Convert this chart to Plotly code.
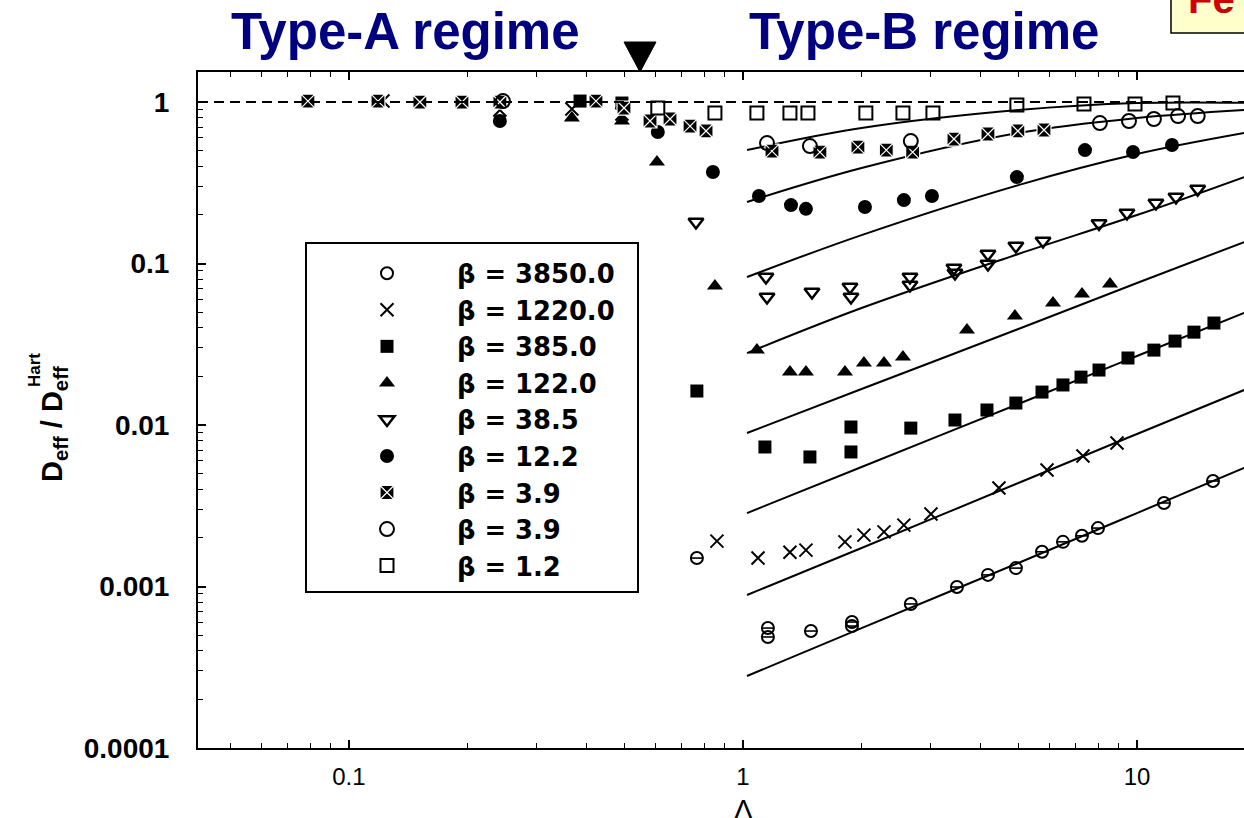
import plotly.graph_objects as go

# ---------------- data ----------------
lam_b3850 = [0.764, 1.157, 1.157, 1.488, 1.891, 1.891, 2.667, 3.492, 4.186, 4.928, 5.741, 6.489, 7.25, 7.962, 11.71, 15.59]
d_b3850 = [0.00150, 0.000553, 0.000487, 0.000530, 0.000603, 0.000569, 0.000780, 0.000993, 0.00118, 0.00130, 0.00164, 0.00189, 0.00206, 0.00230, 0.00329, 0.00450]

lam_b1220 = [0.122, 0.2416, 0.368, 0.493, 0.859, 1.092, 1.316, 1.445, 1.815, 2.028, 2.280, 2.561, 3.000, 4.464, 5.911, 7.294, 8.898]
d_b1220 = [1.014, 0.892, 0.905, 0.843, 0.00191, 0.00150, 0.00163, 0.00168, 0.00189, 0.00208, 0.00218, 0.00240, 0.00281, 0.00407, 0.00526, 0.00643, 0.00773]

lam_b385 = [0.386, 0.493, 0.764, 1.137, 1.479, 1.880, 1.880, 2.667, 3.452, 4.162, 4.928, 5.741, 6.489, 7.210, 8.01, 9.488, 11.04, 12.49, 13.95, 15.68]
d_b385 = [1.014, 0.986, 0.01624, 0.00731, 0.00634, 0.00972, 0.00681, 0.00957, 0.01074, 0.01239, 0.01368, 0.0160, 0.0177, 0.0198, 0.0219, 0.0260, 0.0291, 0.0331, 0.0376, 0.0428]

lam_b122 = [0.368, 0.493, 0.605, 0.849, 1.085, 1.316, 1.445, 1.815, 2.028, 2.280, 2.547, 3.703, 4.900, 6.121, 7.252, 8.543]
d_b122 = [0.796, 0.763, 0.425, 0.0725, 0.0291, 0.0213, 0.0213, 0.0213, 0.0242, 0.0242, 0.0264, 0.0387, 0.0473, 0.0569, 0.0648, 0.0747]

lam_b38 = [0.760, 1.144, 1.151, 1.497, 1.869, 1.880, 2.654, 2.654, 3.432, 3.452, 4.186, 4.186, 4.928, 5.775, 8.01, 9.433, 11.17, 12.56, 14.26]
d_b38 = [0.1807, 0.0825, 0.0620, 0.0666, 0.0715, 0.0620, 0.0825, 0.0736, 0.0938, 0.0873, 0.1145, 0.0993, 0.1284, 0.1378, 0.177, 0.2055, 0.237, 0.258, 0.289]

lam_b12 = [0.2416, 0.608, 0.839, 1.098, 1.324, 1.445, 2.040, 2.561, 3.017, 4.957, 7.379, 9.77, 12.27]
d_b12 = [0.763, 0.652, 0.3686, 0.262, 0.230, 0.218, 0.224, 0.247, 0.262, 0.343, 0.504, 0.490, 0.542]

lam_b39s = [0.0787, 0.1185, 0.1514, 0.1936, 0.2416, 0.4236, 0.499, 0.581, 0.653, 0.734, 0.806, 1.185, 1.568, 1.958, 2.311, 2.696, 3.432, 4.186, 4.985, 5.808]
d_b39s = [1.014, 1.014, 1.0, 1.0, 1.0, 1.014, 0.918, 0.763, 0.785, 0.710, 0.662, 0.497, 0.490, 0.526, 0.504, 0.490, 0.590, 0.634, 0.662, 0.671]

lam_b39o = [0.246, 1.151, 1.479, 2.667, 8.05, 9.543, 11.04, 12.71, 14.26]
d_b39o = [1.014, 0.557, 0.534, 0.573, 0.741, 0.763, 0.785, 0.819, 0.819]

lam_b1p2 = [0.608, 0.849, 1.085, 1.316, 1.462, 2.051, 2.547, 3.035, 4.957, 7.337, 9.885, 12.34]
d_b1p2 = [0.918, 0.855, 0.855, 0.855, 0.855, 0.855, 0.855, 0.855, 0.958, 0.972, 0.972, 0.986]

# theory curves, read at a few abscissae
lam_fit = [1.024, 2.0, 5.0, 10.0, 18.7]
fit_3850 = [2.79e-4, 5.53e-4, 1.398e-3, 2.85e-3, 5.42e-3]
fit_1220 = [8.86e-4, 1.731e-3, 4.375e-3, 8.80e-3, 0.01647]
fit_385 = [2.85e-3, 5.50e-3, 0.01349, 0.02674, 0.0494]
fit_122 = [8.92e-3, 0.01671, 0.0393, 0.0757, 0.1358]
fit_38 = [0.0279, 0.0530, 0.1145, 0.1997, 0.343]
fit_12 = [0.0825, 0.150, 0.306, 0.4766, 0.643]
fit_39 = [0.2404, 0.390, 0.643, 0.796, 0.892]
fit_1p2 = [0.504, 0.690, 0.892, 0.986, 0.99]

y_ticks = [0.0001, 0.001, 0.01, 0.1, 1]
y_ticktext = ["0.0001", "0.001", "0.01", "0.1", "1"]
x_ticks = [0.1, 1, 10]
x_ticktext = ["0.1", "1", "10"]

# ---------------- figure ----------------
W, H = 1244, 818
ML, MR, MT, MB = 198, 0, 72, 70
PW, PH = W - ML - MR, H - MT - MB

def px(x):
    return (x - ML) / PW

def py(y):
    return (H - MB - y) / PH

FONT = "Liberation Sans, Arial, sans-serif"
NARROW = "Liberation Sans Narrow, Arial Narrow, Liberation Sans, Arial, sans-serif"
fig = go.Figure()

for f in [fit_3850, fit_1220, fit_385, fit_122, fit_38, fit_12, fit_39, fit_1p2]:
    fig.add_trace(go.Scatter(x=lam_fit, y=f, mode="lines", line=dict(color="black", width=2, shape="spline"),
                             showlegend=False, hoverinfo="skip"))

def mk(x, y, name, symbol, size=13, color="black", lcolor="black", lw=2):
    fig.add_trace(go.Scatter(x=x, y=y, mode="markers", name=name,
                             marker=dict(symbol=symbol, size=size, color=color,
                                         line=dict(color=lcolor, width=lw))))

mk(lam_b3850, d_b3850, "β = 3850.0", "circle-open", size=12, lw=2)
mk(lam_b1220, d_b1220, "β = 1220.0", "x-thin-open", size=13, lw=2)
mk(lam_b385, d_b385, "β = 385.0", "square", size=13, lw=0)
mk(lam_b122, d_b122, "β = 122.0", "triangle-up", size=14, lw=0)
mk(lam_b38, d_b38, "β = 38.5", "triangle-down-open", size=13, lw=2.5)
mk(lam_b12, d_b12, "β = 12.2", "circle", size=14, lw=0)
mk(lam_b39s, d_b39s, "β = 3.9", "square-x", size=14, color="black", lcolor="white", lw=1.2)
mk(lam_b39o, d_b39o, "β = 3.9 ", "circle-open", size=14, lw=2)
mk(lam_b1p2, d_b1p2, "β = 1.2", "square-open", size=13, lw=2)
# bar inside the 3850 circles
fig.add_trace(go.Scatter(x=lam_b3850, y=d_b3850, mode="markers", showlegend=False, hoverinfo="skip",
                         marker=dict(symbol="line-ew", size=9, color="black",
                                     line=dict(color="black", width=1.6))))

shapes = [
    # dashed unity line
    dict(type="line", xref="paper", x0=0, x1=1, yref="y", y0=1, y1=1,
         line=dict(color="black", width=2, dash="10px,6px")),
    # legend frame
    dict(type="rect", xref="paper", yref="paper", x0=px(306), x1=px(638), y0=py(592), y1=py(243),
         line=dict(color="black", width=2), fillcolor="white", layer="below"),
    # regime boundary marker
    dict(type="path", xref="paper", yref="paper",
         path=f"M {px(624)} {py(42)} L {px(656)} {py(42)} L {px(640)} {py(72)} Z",
         fillcolor="black", line=dict(color="black", width=1)),
    # yellow box at top right
    dict(type="rect", xref="paper", yref="paper", x0=px(1171), x1=px(1300), y0=py(33), y1=py(-40),
         fillcolor="#FFFFCC", line=dict(color="black", width=1.5)),
]

annotations = [
    dict(text="<b>Type-A regime</b>", x=px(405), y=py(31), xref="paper", yref="paper", showarrow=False,
         font=dict(family=FONT, size=51, color="#000080"), xanchor="center", yanchor="middle"),
    dict(text="<b>Type-B regime</b>", x=px(924), y=py(31), xref="paper", yref="paper", showarrow=False,
         font=dict(family=FONT, size=51, color="#000080"), xanchor="center", yanchor="middle"),
    dict(text="<b>Fe</b>", x=px(1186), y=py(23), xref="paper", yref="paper", showarrow=False,
         font=dict(family=FONT, size=40, color="#CC0000"), xanchor="left", yanchor="bottom"),
    dict(text="Λ", x=px(743), y=py(809), xref="paper", yref="paper", showarrow=False,
         font=dict(family=NARROW, size=28, color="black"), xanchor="center", yanchor="middle"),
    dict(text="<b>D<sub>eff</sub> / D<sub>eff</sub></b>", x=px(54), y=py(424), xref="paper", yref="paper",
         showarrow=False, textangle=-90, font=dict(family=FONT, size=29, color="black"),
         xanchor="center", yanchor="middle"),
    dict(text="<b>Hart</b>", x=px(34), y=py(370), xref="paper", yref="paper",
         showarrow=False, textangle=-90, font=dict(family=FONT, size=17, color="black"),
         xanchor="center", yanchor="middle"),
]

fig.update_layout(
    width=W, height=H,
    margin=dict(l=ML, r=MR, t=MT, b=MB),
    paper_bgcolor="white", plot_bgcolor="white",
    shapes=shapes, annotations=annotations,
    showlegend=True,
    legend=dict(x=px(317), y=py(250), xanchor="left", yanchor="top",
                bgcolor="rgba(0,0,0,0)", borderwidth=0, itemwidth=130,
                font=dict(family="DejaVu Sans, sans-serif", size=25.8, color="black", weight="bold")),
    xaxis=dict(type="log", range=[-1.383, 1.2716], showline=True, linecolor="black", linewidth=2,
               mirror="allticks", ticks="inside", ticklen=8, tickwidth=1.5, tickcolor="black",
               tickvals=x_ticks, ticktext=x_ticktext, showgrid=False, zeroline=False,
               tickfont=dict(family=NARROW, size=24, color="black"), ticklabelstandoff=6,
               minor=dict(ticks="inside", ticklen=5, tickcolor="black", tickwidth=1, showgrid=False,
                          tickvals=[m * 10.0 ** e for e in range(-2, 2) for m in range(2, 10)])),
    yaxis=dict(type="log", range=[-4, 0.186], showline=True, linecolor="black", linewidth=2,
               mirror=False, ticks="inside", ticklen=8, tickwidth=1.5, tickcolor="black",
               tickvals=y_ticks, ticktext=y_ticktext, showgrid=False, zeroline=False,
               tickfont=dict(family=FONT, size=28, color="black", weight="bold"), ticklabelstandoff=21,
               minor=dict(ticks="inside", ticklen=5, tickcolor="black", tickwidth=1, showgrid=False,
                          tickvals=[m * 10.0 ** e for e in range(-4, 1) for m in range(2, 10)])),
)

fig.write_html("out.html", config={"displayModeBar": False},
               post_script="document.body.style.margin='0';document.body.style.overflow='hidden';")
